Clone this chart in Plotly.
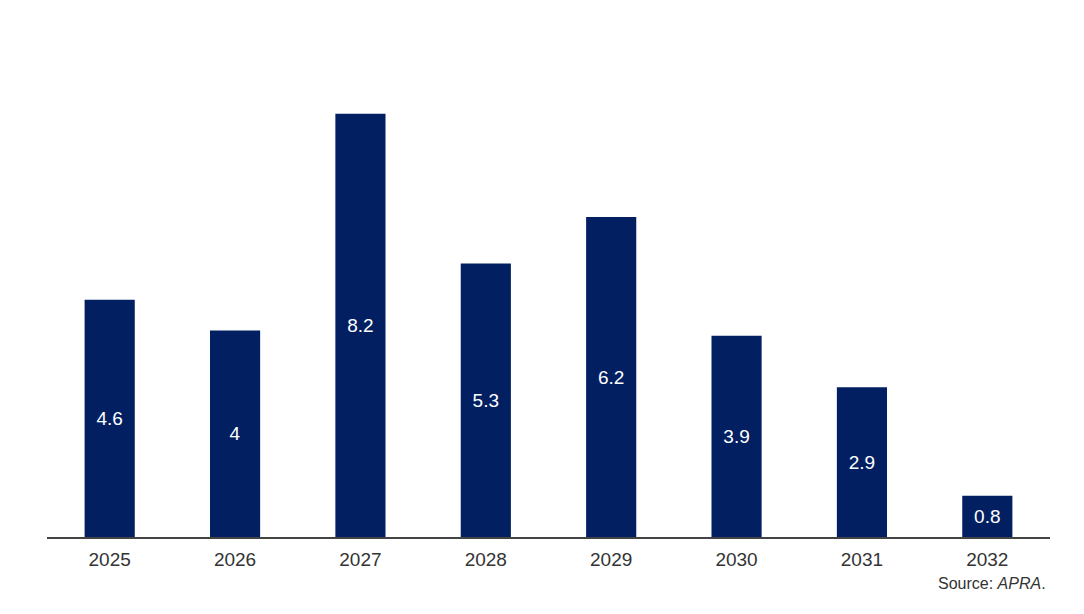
import plotly.graph_objects as go

years = ["2025", "2026", "2027", "2028", "2029", "2030", "2031", "2032"]
values = [4.6, 4.0, 8.2, 5.3, 6.2, 3.9, 2.9, 0.8]
labels = ["4.6", "4", "8.2", "5.3", "6.2", "3.9", "2.9", "0.8"]

fig = go.Figure()
fig.add_trace(go.Bar(
    x=years, y=values, text=labels,
    textposition="inside", insidetextanchor="middle",
    textfont=dict(color="white", size=19, family="Liberation Sans, Arial"),
    marker=dict(color="#021f62", line=dict(width=0)),
    width=0.4, hoverinfo="x+y",
))
fig.update_layout(
    width=1084, height=614,
    margin=dict(l=39, r=42, t=52, b=85),
    paper_bgcolor="white", plot_bgcolor="white",
    showlegend=False,
    font=dict(family="Liberation Sans, Arial", color="#333333"),
    uniformtext=dict(mode=False),
    xaxis=dict(type="category", showline=True, linecolor="#444444", linewidth=1.5,
               ticks="", tickfont=dict(size=19, color="#333333"), showgrid=False,
               ticklabelstandoff=4),
    yaxis=dict(range=[0, 9.244], visible=False, showgrid=False, zeroline=False),
    annotations=[dict(
        x=1.0, y=0, xref="paper", yref="paper", xanchor="right", yanchor="top",
        yshift=-36, xshift=-2,
        text="Source: <i>APRA</i>.", showarrow=False,
        font=dict(size=16, color="#333333", family="Liberation Sans, Arial"),
    )],
)
fig.write_html("out.html")
